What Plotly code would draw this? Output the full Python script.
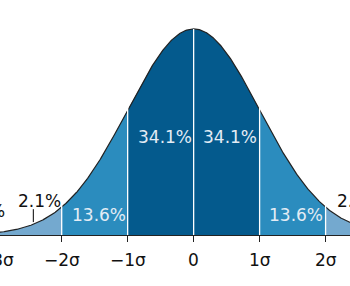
import numpy as np
import plotly.graph_objects as go

# Data
sigma_ticks = [-3, -2, -1, 0, 1, 2, 3]
tick_labels = ["−3σ", "−2σ", "−1σ", "0", "1σ", "2σ", "3σ"]
band_edges = [(-4, -3), (-3, -2), (-2, -1), (-1, 0), (0, 1), (1, 2), (2, 3), (3, 4)]
band_colors = ["#a6c8e2", "#74a9cf", "#2b8cbe", "#045a8d", "#045a8d", "#2b8cbe", "#74a9cf", "#a6c8e2"]
pct_labels = ["0.1%", "2.1%", "13.6%", "34.1%", "34.1%", "13.6%", "2.1%", "0.1%"]

X_RANGE = [-2.935, 2.37]


def pdf(x):
    return np.exp(-0.5 * np.asarray(x) ** 2) / np.sqrt(2 * np.pi)


fig = go.Figure()
for (a, b), c in zip(band_edges, band_colors):
    xs = np.linspace(a, b, 120)
    fig.add_trace(go.Scatter(x=xs, y=pdf(xs), mode="lines", fill="tozeroy",
                             fillcolor=c, line=dict(width=0, color=c),
                             hoverinfo="skip", showlegend=False))

xs = np.linspace(-4, 4, 800)
fig.add_trace(go.Scatter(x=xs, y=pdf(xs), mode="lines",
                         line=dict(color="#222222", width=1.2),
                         hoverinfo="skip", showlegend=False))

# white separators
for s in sigma_ticks:
    top = float(pdf(s)) + (0.0 if s == 0 else 0.026)
    fig.add_shape(type="line", x0=s, x1=s, y0=0, y1=top,
                  line=dict(color="white", width=1.3), layer="above")

# pointer lines for small labels
for s in [-2.43, 2.43]:
    fig.add_shape(type="line", x0=s, x1=s, y0=0.025, y1=0.050,
                  line=dict(color="black", width=1), layer="above")

# percentage labels: (x, y, anchor, color)
label_pos = [(-2.85, 0.046, "right", "#111111"),
             (-2.67, 0.065, "left", "#111111"),
             (-1.855, 0.039, "left", "#e3ecf5"),
             (-0.855, 0.190, "left", "#e3ecf5"),
             (0.13, 0.190, "left", "#e3ecf5"),
             (1.13, 0.039, "left", "#e3ecf5"),
             (2.16, 0.065, "left", "#111111"),
             (3.3, 0.046, "left", "#111111")]
span = X_RANGE[1] - X_RANGE[0]
for txt, (x, y, anc, col) in zip(pct_labels, label_pos):
    fig.add_annotation(x=(x - X_RANGE[0]) / span, xref="paper", y=y, text=txt,
                       showarrow=False, xanchor=anc, yanchor="middle",
                       font=dict(family="DejaVu Sans", size=17, color=col),
                       borderpad=0)

# tick labels (as paper-positioned annotations so the clipped edge label shows)
for s, t in zip(sigma_ticks, tick_labels):
    fig.add_annotation(x=(s - X_RANGE[0]) / span, xref="paper", y=0, yref="y",
                       text=t, showarrow=False, xanchor="center", yanchor="middle",
                       yshift=-25,
                       font=dict(family="DejaVu Sans", size=17, color="#111111"),
                       borderpad=0)

fig.update_xaxes(range=X_RANGE, showgrid=False, zeroline=False,
                 showline=True, linecolor="#222222", linewidth=1,
                 ticks="outside", ticklen=6, tickcolor="#222222", tickwidth=1,
                 tickvals=sigma_ticks, showticklabels=False)
fig.update_yaxes(range=[0, 0.455], visible=False)
fig.update_layout(width=350, height=286, margin=dict(l=0, r=0, t=0, b=51),
                  plot_bgcolor="white", paper_bgcolor="white")
fig.write_html("out.html")
